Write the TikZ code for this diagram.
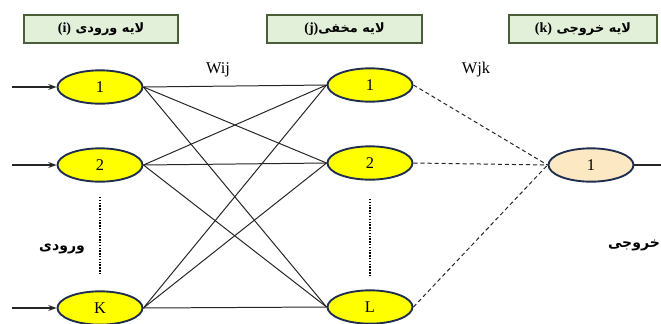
\documentclass[tikz,border=0pt]{standalone}
\usepackage{fontspec}
\setmainfont{Liberation Serif}
\newfontfamily\farsi[Script=Arabic]{DejaVu Sans}
\TeXXeTstate=1
\usetikzlibrary{shapes.geometric,arrows.meta}
\definecolor{nodeyellow}{HTML}{FFFF00}
\definecolor{nodeedge}{HTML}{1F2D4F}
\definecolor{outfill}{HTML}{FCE9C4}
\definecolor{headfill}{HTML}{E2EFD9}
\definecolor{headedge}{HTML}{4A5E3A}
\definecolor{wire}{HTML}{262626}
\newcommand{\lyr}[1]{{\rmfamily\bfseries\fontsize{12}{14}\selectfont #1}}
\tikzset{
  neuron/.style={ellipse, draw=nodeedge, line width=1.6pt, fill=nodeyellow,
    minimum width=2.55cm, minimum height=1.0cm, inner sep=0pt, font=\fontsize{14}{16}\selectfont},
  outneuron/.style={neuron, fill=outfill},
  header/.style={rectangle, draw=headedge, line width=1.8pt, fill=headfill,
    minimum height=0.84cm, inner sep=0pt, font=\farsi\bfseries\fontsize{11}{13}\selectfont},
  wgt/.style={wire, line width=0.85pt},
  dashwgt/.style={wire, line width=0.85pt, dash pattern=on 3.5pt off 2.5pt},
  inarrow/.style={wire, line width=1pt, -{Stealth[length=7pt,width=5pt]}},
  dotcol/.style={line width=1.7pt, dash pattern=on 1.2pt off 1.2pt},
  lbl/.style={font=\fontsize{14}{16}\selectfont},
  farsilbl/.style={font=\farsi\bfseries\fontsize{12}{14}\selectfont}
}
\begin{document}
\begin{tikzpicture}[x=0.03cm,y=-0.03cm]
\useasboundingbox (0,0) rectangle (661,323);

% layer headers
\node[header, minimum width=4.62cm] (hin) at (101,29) {\lyr{(i)} \beginR لایه ورودی\endR};
\node[header, minimum width=4.65cm] (hhid) at (344.5,29) {\lyr{(j)}\beginR لایه مخفی\endR};
\node[header, minimum width=4.44cm] (hout) at (583,29) {\lyr{(k)} \beginR لایه خروجی\endR};

% input layer
\node[neuron] (i1) at (100,87) {1};
\node[neuron] (i2) at (100,165) {2};
\node[neuron] (iK) at (100,308) {K};

% hidden layer
\node[neuron] (h1) at (370,85) {1};
\node[neuron] (h2) at (370,163) {2};
\node[neuron] (hL) at (370,307) {L};

% output layer
\node[outneuron] (o1) at (591,165) {1};

% input arrows
\coordinate (a1) at (12,87);
\coordinate (a2) at (12,165);
\coordinate (aK) at (12,308);
\draw[inarrow] (a1) -- (i1.west);
\draw[inarrow] (a2) -- (i2.west);
\draw[inarrow] (aK) -- (iK.west);

% input-to-hidden weights
\foreach \s in {i1,i2,iK}{
  \foreach \t in {h1,h2,hL}{
    \draw[wgt] (\s.east) -- (\t.west);
  }
}

% hidden-to-output weights
\foreach \s in {h1,h2,hL}{
  \draw[dashwgt] (\s.east) -- (o1.west);
}

% output line
\coordinate (oend) at (661,165);
\draw[wire, line width=1.3pt] (o1.east) -- (oend);

% omitted neurons
\coordinate (d1a) at (100,197);
\coordinate (d1b) at (100,275);
\coordinate (d2a) at (370,199);
\coordinate (d2b) at (370,275);
\draw[dotcol] (d1a) -- (d1b);
\draw[dotcol] (d2a) -- (d2b);

% labels
\node[lbl] (wij) at (218,70) {Wij};
\node[lbl] (wjk) at (476,70) {Wjk};
\node[farsilbl] (lin) at (62,249) {\beginR ورودی\endR};
\node[farsilbl] (lout) at (634,245) {\beginR خروجی\endR};
\end{tikzpicture}
\end{document}
